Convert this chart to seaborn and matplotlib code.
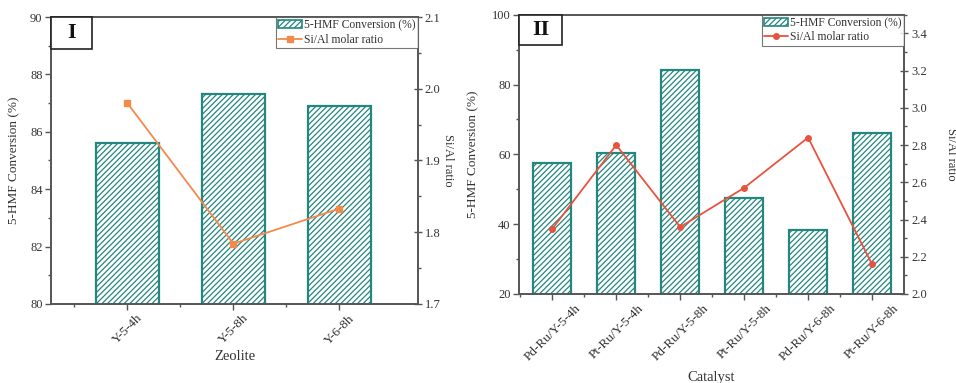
import matplotlib
matplotlib.use("Agg")
import matplotlib.pyplot as plt
from matplotlib.patches import Rectangle, Patch
from matplotlib.lines import Line2D
from matplotlib.ticker import MultipleLocator, FormatStrFormatter
import seaborn as sns
import numpy as np

# data
zeolites = ["Y-5-4h", "Y-5-8h", "Y-6-8h"]
zeo_conversion = [85.6, 87.3, 86.9]
zeo_sial = [1.98, 1.784, 1.833]

catalysts = ["Pd-Ru/Y-5-4h", "Pt-Ru/Y-5-4h", "Pd-Ru/Y-5-8h",
             "Pt-Ru/Y-5-8h", "Pd-Ru/Y-6-8h", "Pt-Ru/Y-6-8h"]
cat_conversion = [57.5, 60.4, 84.1, 47.6, 38.4, 66.2]
cat_sial = [2.35, 2.80, 2.36, 2.57, 2.84, 2.16]

TEAL = "#23877f"
ORANGE = "#f28a4c"
RED = "#e8533f"
GREY = "#555555"
TXT = "#333333"

sns.set_theme(style="white")
plt.rcParams["font.family"] = ["Liberation Serif", "DejaVu Serif"]
plt.rcParams["hatch.linewidth"] = 0.9
plt.rcParams["axes.edgecolor"] = GREY
plt.rcParams["axes.linewidth"] = 1.2
plt.rcParams["text.color"] = TXT
plt.rcParams["axes.labelcolor"] = TXT
plt.rcParams["xtick.color"] = GREY
plt.rcParams["ytick.color"] = GREY
plt.rcParams["xtick.labelcolor"] = TXT
plt.rcParams["ytick.labelcolor"] = TXT

fig = plt.figure(figsize=(9.56, 3.83), dpi=100)


def panel(rect, cats, conv, sial, line_color, marker, ylim, ymaj, ymin,
          y2lim, y2maj, y2min, xlim, tag, xlabel, xlabel_y, ylab_x, y2lab_x):
    ax = fig.add_axes(rect)
    sns.barplot(x=cats, y=conv, ax=ax, color="white", edgecolor=TEAL,
                linewidth=1.6, width=0.6, saturation=1)
    for p in ax.patches:
        p.set_hatch("//////")
        p.set_facecolor("white")
        p.set_edgecolor(TEAL)
    ax.set_ylim(*ylim)
    ax.yaxis.set_major_locator(MultipleLocator(ymaj))
    ax.yaxis.set_minor_locator(MultipleLocator(ymin))

    ax2 = ax.twinx()
    sns.pointplot(x=cats, y=sial, ax=ax2, color=line_color, marker=marker,
                  markersize=4, linewidth=1.3)
    ax2.set_ylim(*y2lim)
    ax2.yaxis.set_major_locator(MultipleLocator(y2maj))
    ax2.yaxis.set_minor_locator(MultipleLocator(y2min))
    ax2.yaxis.set_major_formatter(FormatStrFormatter("%.1f"))

    for a in (ax, ax2):
        a.set_xlim(*xlim)
        for s in a.spines.values():
            s.set_color(GREY)
            s.set_linewidth(1.2)
    ax.set_xticks(np.arange(len(cats)))
    ax.set_xticks(np.arange(len(cats)) - 0.5, minor=True)
    ax.set_xticklabels(cats, rotation=45, ha="center", fontsize=9.5)
    ax.tick_params(axis="both", which="major", direction="out", length=4,
                   width=1, labelsize=9, left=True, bottom=True, pad=2)
    ax.tick_params(axis="x", which="major", labelsize=9.5)
    ax.tick_params(axis="both", which="minor", direction="out", length=2.5,
                   width=1, left=True, bottom=True)
    ax2.tick_params(axis="y", which="major", direction="inout", length=6,
                    width=1, labelsize=9, right=True, pad=2)
    ax2.tick_params(axis="y", which="minor", direction="out", length=2.5,
                    width=1, right=True)

    ax.set_xlabel("")
    ax.set_ylabel("5-HMF Conversion (%)", fontsize=9.5)
    ax.yaxis.set_label_coords(ylab_x, 0.5)
    ax2.set_ylabel("Si/Al ratio", fontsize=9, rotation=270, va="bottom")
    ax2.yaxis.set_label_coords(y2lab_x, 0.5)
    fig.text(rect[0] + rect[2] / 2, xlabel_y, xlabel, ha="center",
             va="center", fontsize=10.5, color=TXT)

    # panel tag box
    ax2.add_patch(Rectangle((0, 0.89), 0.112, 0.11, transform=ax2.transAxes,
                            facecolor="white", edgecolor="#222222",
                            linewidth=1.2, clip_on=False, zorder=5))
    ax2.text(0.056, 0.945, tag, transform=ax2.transAxes, ha="center",
             va="center", fontsize=16, fontweight="bold", color="#111111",
             zorder=6)

    handles = [Patch(facecolor="white", edgecolor=TEAL, hatch="//////",
                     linewidth=1.2),
               Line2D([], [], color=line_color, marker=marker, markersize=4,
                      linewidth=1.3)]
    leg = ax2.legend(handles, ["5-HMF Conversion (%)", "Si/Al molar ratio"],
                     loc="upper right", bbox_to_anchor=(1.0, 1.0),
                     borderaxespad=0.0, fontsize=8.4, frameon=True,
                     fancybox=False, handlelength=2.0, handletextpad=0.2,
                     borderpad=0.2, labelspacing=0.2)
    leg.get_frame().set_edgecolor(GREY)
    leg.get_frame().set_linewidth(0.8)
    return ax, ax2


panel([0.0533, 0.2063, 0.3839, 0.7493], zeolites, zeo_conversion, zeo_sial,
      ORANGE, "s", (80, 90), 2, 1, (1.7, 2.1), 0.1, 0.05, (-0.72, 2.74),
      "I", "Zeolite", 1 - 357 / 383, -0.084, 1.066)

panel([0.5429, 0.2324, 0.4027, 0.7292], catalysts, cat_conversion, cat_sial,
      RED, "o", (20, 100), 20, 10, (2.0, 3.5), 0.2, 0.1, (-0.52, 5.5),
      "II", "Catalyst", 1 - 377 / 383, -0.104, 1.107)

fig.savefig("out.png", dpi=100)
